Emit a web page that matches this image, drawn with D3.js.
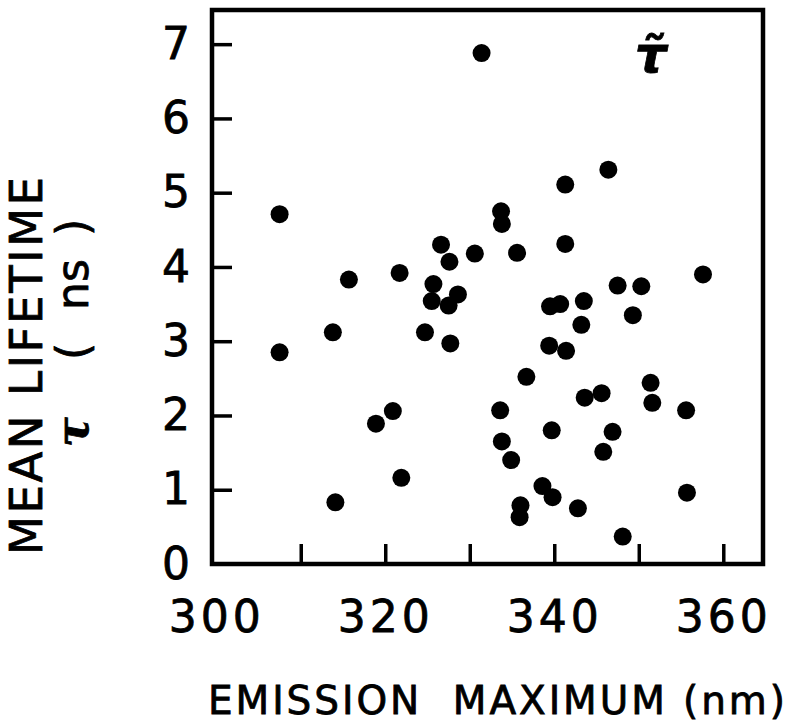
<!DOCTYPE html>
<html>
<head>
<meta charset="utf-8">
<script src="https://cdn.jsdelivr.net/npm/d3@7"></script>
<style>
  body { margin: 0; background: #fff; }
  text { font-family: "DejaVu Sans", sans-serif; fill: #000; stroke: #000; stroke-width: 0.8px; }
</style>
</head>
<body>
<svg id="chart" width="800" height="725"></svg>
<script>
// emission maximum (nm) and mean lifetime (ns)
const emission = [331.4, 307.5, 307.5, 313.8, 314.1, 315.7, 321.7, 320.9, 318.9, 321.9,
                  326.6, 327.6, 325.7, 325.5, 327.5, 328.6, 324.7, 327.7, 330.6, 333.7,
                  333.8, 335.6, 333.6, 333.8, 334.9, 336.7, 336.0, 335.9, 338.6, 339.8,
                  339.7, 339.4, 339.5, 340.7, 341.4, 341.3, 341.3, 343.5, 343.2, 343.6,
                  345.6, 342.8, 346.4, 345.8, 346.9, 347.5, 348.1, 349.3, 350.3, 351.4,
                  351.6, 355.6, 355.7, 357.6];
const lifetime = [6.88, 4.71, 2.85, 3.12, 0.83, 3.83, 3.92, 2.06, 1.89, 1.16,
                  4.30, 4.07, 3.77, 3.54, 3.48, 3.63, 3.12, 2.97, 4.18, 4.75,
                  4.58, 4.19, 2.07, 1.65, 1.40, 2.52, 0.79, 0.63, 1.05, 0.90,
                  1.80, 2.94, 3.47, 3.50, 2.87, 5.11, 4.31, 3.54, 3.22, 2.24,
                  2.30, 0.75, 5.31, 1.51, 1.78, 3.75, 0.37, 3.35, 3.74, 2.44,
                  2.17, 2.07, 0.96, 3.90];
const xTicks = [300, 310, 320, 330, 340, 350, 360];
const xLabels = [300, 320, 340, 360];
const yTicks = [0, 1, 2, 3, 4, 5, 6, 7];

const plotL = 212, plotR = 763, plotT = 10, plotB = 564;

const svg = d3.select("#chart");

const x = d3.scaleLinear().domain([299.5, 364.7]).range([plotL, plotR]);
const y = d3.scaleLinear().domain([0, 7.46]).range([plotB, plotT]);

// frame
svg.append("rect")
    .attr("x", plotL)
    .attr("y", plotT)
    .attr("width", plotR - plotL)
    .attr("height", plotB - plotT)
    .attr("fill", "none")
    .attr("stroke", "#000")
    .attr("stroke-width", 4.5)

const xAxis = svg.append("g")
    .attr("transform", `translate(0,${plotB})`)
    .call(d3.axisBottom(x)
        .tickValues(xTicks)
        .tickSizeInner(-20)
        .tickSizeOuter(0)
        .tickPadding(37)
        .tickFormat(d => xLabels.includes(d) ? d : ""))
xAxis.select(".domain").remove()
xAxis.selectAll(".tick line")
    .attr("stroke", "#000")
    .attr("stroke-width", 3.5)
    .filter(d => d === 300).remove()
xAxis.selectAll(".tick text")
    .attr("font-size", 44)
    .attr("letter-spacing", 4)
    .attr("font-family", "DejaVu Sans")

const yAxis = svg.append("g")
    .attr("transform", `translate(${plotL},0)`)
    .call(d3.axisLeft(y)
        .tickValues(yTicks)
        .tickSizeInner(-20)
        .tickSizeOuter(0)
        .tickPadding(22))
yAxis.select(".domain").remove()
yAxis.selectAll(".tick line")
    .attr("stroke", "#000")
    .attr("stroke-width", 3.5)
    .filter(d => d === 0).remove()
yAxis.selectAll(".tick text")
    .attr("font-size", 44)
    .attr("font-family", "DejaVu Sans")

// points
svg.append("g")
    .selectAll("circle")
    .data(emission)
    .join("circle")
    .attr("cx", d => x(d))
    .attr("cy", (d, i) => y(lifetime[i]))
    .attr("r", 9)
    .attr("fill", "#000")

// tau-tilde label inside the plot
svg.append("text")
    .attr("x", 651)
    .attr("y", 72)
    .attr("text-anchor", "middle")
    .attr("font-family", "DejaVu Serif")
    .attr("font-style", "italic")
    .attr("font-weight", "bold")
    .attr("font-size", 50)
    .text("τ\u0303")

// x title
svg.append("text")
    .attr("x", 208)
    .attr("y", 714)
    .attr("font-size", 39)
    .attr("textLength", 577)
    .attr("lengthAdjust", "spacing")
    .style("white-space", "pre")
    .text("EMISSION  MAXIMUM (nm)")

// y title, two lines
const yTitle = svg.append("g")
    .attr("transform", "translate(42,0) rotate(-90)")
yTitle.append("text")
    .attr("x", -555)
    .attr("y", 0)
    .attr("font-size", 45)
    .attr("textLength", 378)
    .attr("lengthAdjust", "spacing")
    .text("MEAN LIFETIME")
const line2 = yTitle.append("text")
    .attr("y", 46)
    .attr("font-size", 44)
line2.append("tspan")
    .attr("x", -447)
    .attr("font-family", "DejaVu Serif")
    .attr("font-style", "italic")
    .attr("font-weight", "bold")
    .text("τ")
line2.append("tspan").attr("x", -360).text("(")
line2.append("tspan").attr("x", -310).text("ns")
line2.append("tspan").attr("x", -236).text(")")
</script>
</body>
</html>
